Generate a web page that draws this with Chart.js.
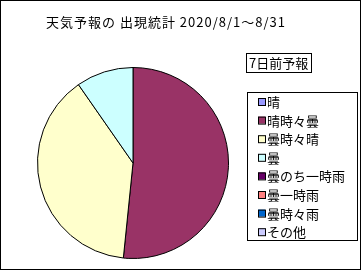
<!DOCTYPE html>
<html>
<head>
<meta charset="utf-8">
<script src="https://cdn.jsdelivr.net/npm/chart.js@4/dist/chart.umd.min.js"></script>
<style>
  html, body { margin: 0; padding: 0; background: #fff; }
  #wrap { width: 361px; height: 270px; position: relative; }
</style>
</head>
<body>
<div id="wrap"><canvas id="chart" width="361" height="270"></canvas></div>
<script>
/* ── Data ─────────────────────────────────────────────── */
const TITLE      = "天気予報の 出現統計 2020/8/1～8/31";
const SUBTITLE   = "7日前予報";
const categories = ["晴", "晴時々曇", "曇時々晴", "曇", "曇のち一時雨", "曇一時雨", "曇時々雨", "その他"];
const days       = [0, 16, 12, 3, 0, 0, 0, 0];
const colors     = ["#9999FF", "#993366", "#FFFFCC", "#CCFFFF", "#660066", "#FF8080", "#0066CC", "#CCCCFF"];

const FONT = "'Noto Sans CJK JP', 'Noto Sans', sans-serif";

/* ── Frame, title, sub box and legend box ─────────────── */
const decor = {
  id: "decor",
  afterDraw(chart) {
    const c = chart.ctx;
    c.save();
    c.strokeStyle = "#000";
    c.lineWidth = 1;
    c.strokeRect(0.5, 0.5, chart.width - 1, chart.height - 1);

    c.fillStyle = "#000";
    c.textBaseline = "middle";
    c.font = "13px " + FONT;
    c.letterSpacing = "1px";
    c.fillText(TITLE, 46, 22);
    c.letterSpacing = "0px";

    // sub box
    c.strokeRect(246.5, 53.5, 65, 19);
    c.fillText(SUBTITLE, 249, 63);

    // legend box
    c.strokeRect(247.5, 92.5, 110, 148);
    c.font = "13px " + FONT;
    categories.forEach((lab, i) => {
      const y = 102 + i * 18.6;
      c.fillStyle = colors[i];
      c.fillRect(258, y - 4, 7, 7);
      c.strokeStyle = "#000";
      c.strokeRect(258.5, y - 3.5, 7, 7);
      c.fillStyle = "#000";
      c.fillText(lab, 267, y);
    });
    c.restore();
  },
};

new Chart(document.getElementById("chart"), {
  type: "pie",
  data: {
    labels: categories,
    datasets: [{
      data:            days,
      backgroundColor: colors,
      borderColor:     "#000",
      borderWidth:     1,
    }],
  },
  options: {
    responsive: false,
    animation:  false,
    layout: { padding: { top: 67, bottom: 11, left: 37, right: 132 } },
    plugins: {
      legend:  { display: false },
      title:   { display: false },
      tooltip: { enabled: false },
    },
  },
  plugins: [decor],
});
</script>
</body>
</html>
